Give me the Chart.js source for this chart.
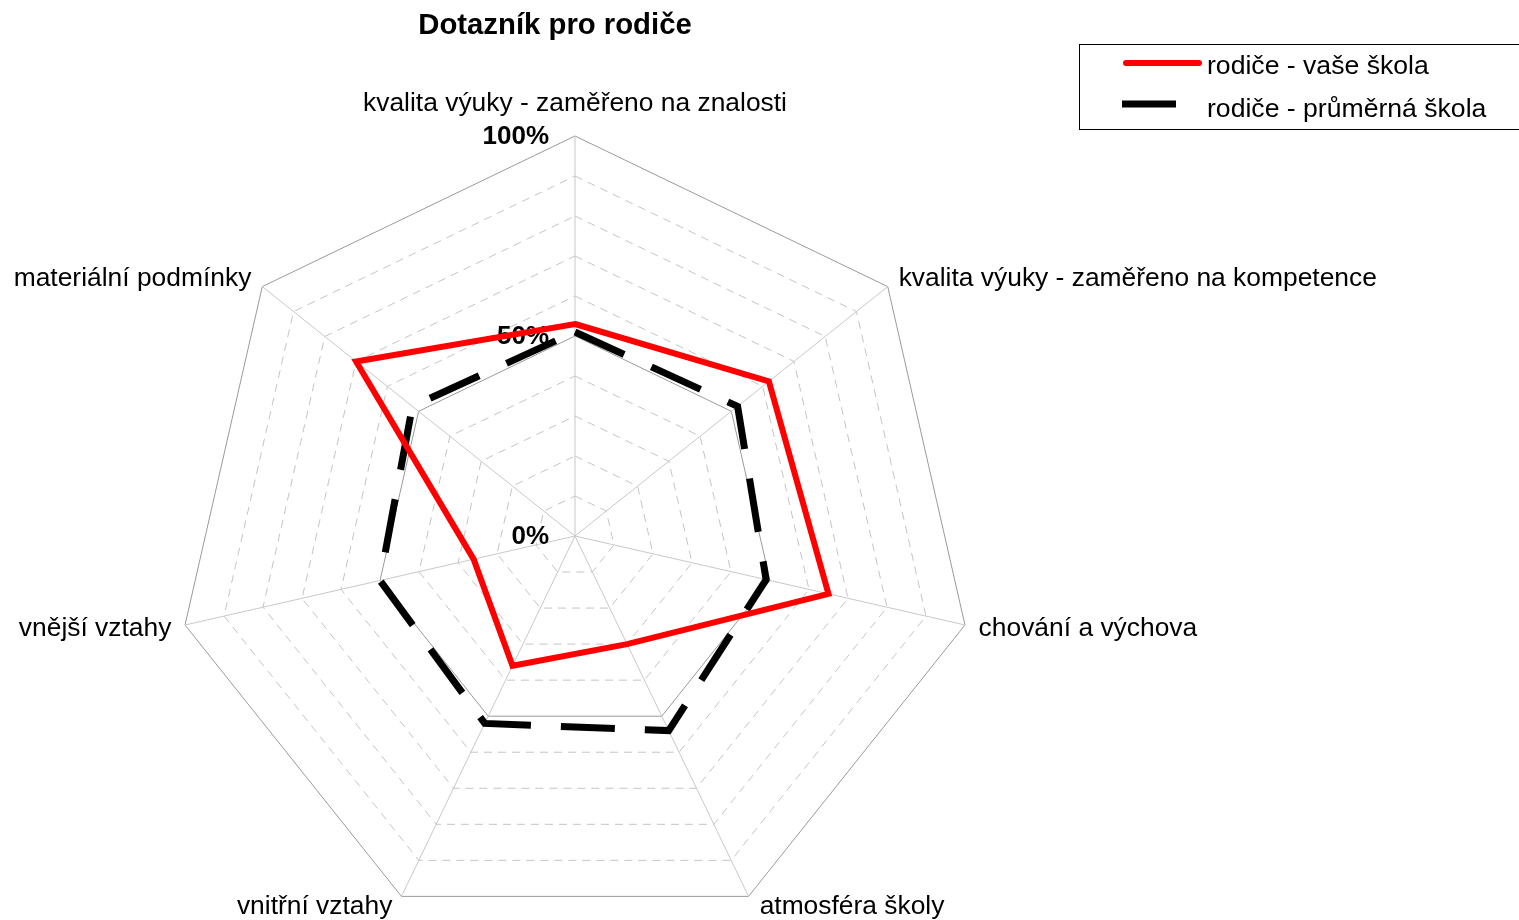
<!DOCTYPE html>
<html>
<head>
<meta charset="utf-8">
<title>Dotazník pro rodiče</title>
<script src="https://cdn.jsdelivr.net/npm/chart.js@4"></script>
<style>
    html, body { margin: 0; padding: 0; background: #fff; overflow: hidden; }
    #wrap { width: 1519px; height: 960px; }
</style>
</head>
<body>
<div id="wrap"><canvas id="radarChart" width="1519" height="960"></canvas></div>
<script>
const categories = [
    'kvalita výuky - zaměřeno na znalosti',
    'kvalita výuky - zaměřeno na kompetence',
    'chování a výchova',
    'atmosféra školy',
    'vnitřní vztahy',
    'vnější vztahy',
    'materiální podmínky'
];
const seriesNames = ['rodiče - vaše škola', 'rodiče - průměrná škola'];
const vaseSkola = [53, 62, 65, 30, 36, 26, 70];
const prumernaSkola = [51, 52, 49, 54, 52, 50, 52];
const shownTicks = [0, 50, 100];
const chartTitle = 'Dotazník pro rodiče';

const FONT = '"Liberation Sans", Arial, sans-serif';

// title, legend box, tick labels and axis labels drawn by hand
const decorPlugin = {
    id: 'decor',
    beforeDatasetsDraw(chart) {
        const ctx = chart.ctx;
        const scale = chart.scales.r;
        ctx.save();
        ctx.fillStyle = '#000';
        ctx.font = 'bold 26px ' + FONT;
        ctx.textAlign = 'right';
        ctx.textBaseline = 'middle';
        shownTicks.forEach(v => {
            const d = scale.getDistanceFromCenterForValue(v);
            ctx.fillText(v + '%', scale.xCenter - 26, scale.yCenter - d + 1);
        });
        ctx.restore();
    },
    afterDraw(chart) {
        const ctx = chart.ctx;
        const scale = chart.scales.r;
        ctx.save();

        // axis labels
        ctx.fillStyle = '#000';
        ctx.font = '26.4px ' + FONT;
        ctx.textBaseline = 'middle';
        categories.forEach((label, i) => {
            const p = scale.getPointPosition(i, scale.drawingArea + 14);
            const dx = p.x - scale.xCenter;
            let x = p.x;
            let y = p.y;
            if (Math.abs(dx) < 1) {
                ctx.textAlign = 'center';
                y -= 18;
            } else {
                ctx.textAlign = dx > 0 ? 'left' : 'right';
                if (p.y > scale.yCenter + 300) {
                    // bottom pair sits a little further out sideways
                    x += dx > 0 ? 5 : -3;
                    y -= 2;
                } else {
                    y += 1;
                }
            }
            ctx.fillText(label, x, y);
        });

        // title
        ctx.font = 'bold 29.3px ' + FONT;
        ctx.textAlign = 'center';
        ctx.fillText(chartTitle, 555, 26);

        // legend
        ctx.strokeStyle = '#000';
        ctx.lineWidth = 1;
        ctx.strokeRect(1079.5, 44.5, 460, 85);

        const ds = chart.data.datasets;
        ctx.lineCap = 'round';
        ctx.strokeStyle = ds[0].borderColor;
        ctx.lineWidth = ds[0].borderWidth;
        ctx.beginPath();
        ctx.moveTo(1126, 63);
        ctx.lineTo(1199, 63);
        ctx.stroke();

        ctx.lineCap = 'butt';
        ctx.strokeStyle = ds[1].borderColor;
        ctx.lineWidth = ds[1].borderWidth;
        ctx.beginPath();
        ctx.moveTo(1122, 104);
        ctx.lineTo(1176, 104);
        ctx.stroke();

        ctx.fillStyle = '#000';
        ctx.font = '26.6px ' + FONT;
        ctx.textAlign = 'left';
        ctx.fillText(seriesNames[0], 1207, 67);
        ctx.fillText(seriesNames[1], 1207, 110);
        ctx.restore();
    }
};

new Chart(document.getElementById('radarChart'), {
    type: 'radar',
    data: {
        labels: categories,
        datasets: [
            {
                label: seriesNames[0],
                data: vaseSkola,
                borderColor: '#ff0000',
                borderWidth: 6,
                borderJoinStyle: 'miter',
                fill: false,
                pointRadius: 0,
                tension: 0
            },
            {
                label: seriesNames[1],
                data: prumernaSkola,
                borderColor: '#000000',
                borderWidth: 7,
                borderDash: [54, 30],
                borderJoinStyle: 'miter',
                fill: false,
                pointRadius: 0,
                tension: 0
            }
        ]
    },
    options: {
        responsive: false,
        animation: false,
        layout: { padding: { left: 175, right: 544, top: 136, bottom: 24 } },
        plugins: {
            legend: { display: false },
            title: { display: false },
            tooltip: { enabled: false }
        },
        scales: {
            r: {
                min: 0,
                max: 100,
                ticks: { stepSize: 10, display: false },
                pointLabels: { display: false },
                angleLines: { color: '#c8c8c8', lineWidth: 1 },
                grid: {
                    lineWidth: 1,
                    color: c => (c.tick && c.tick.value % 50 === 0) ? '#9a9a9a' : '#c4c4c4'
                },
                border: {
                    dash: c => (c.tick && c.tick.value % 50 === 0) ? [] : [8, 6]
                }
            }
        }
    },
    plugins: [decorPlugin]
});
</script>
</body>
</html>
